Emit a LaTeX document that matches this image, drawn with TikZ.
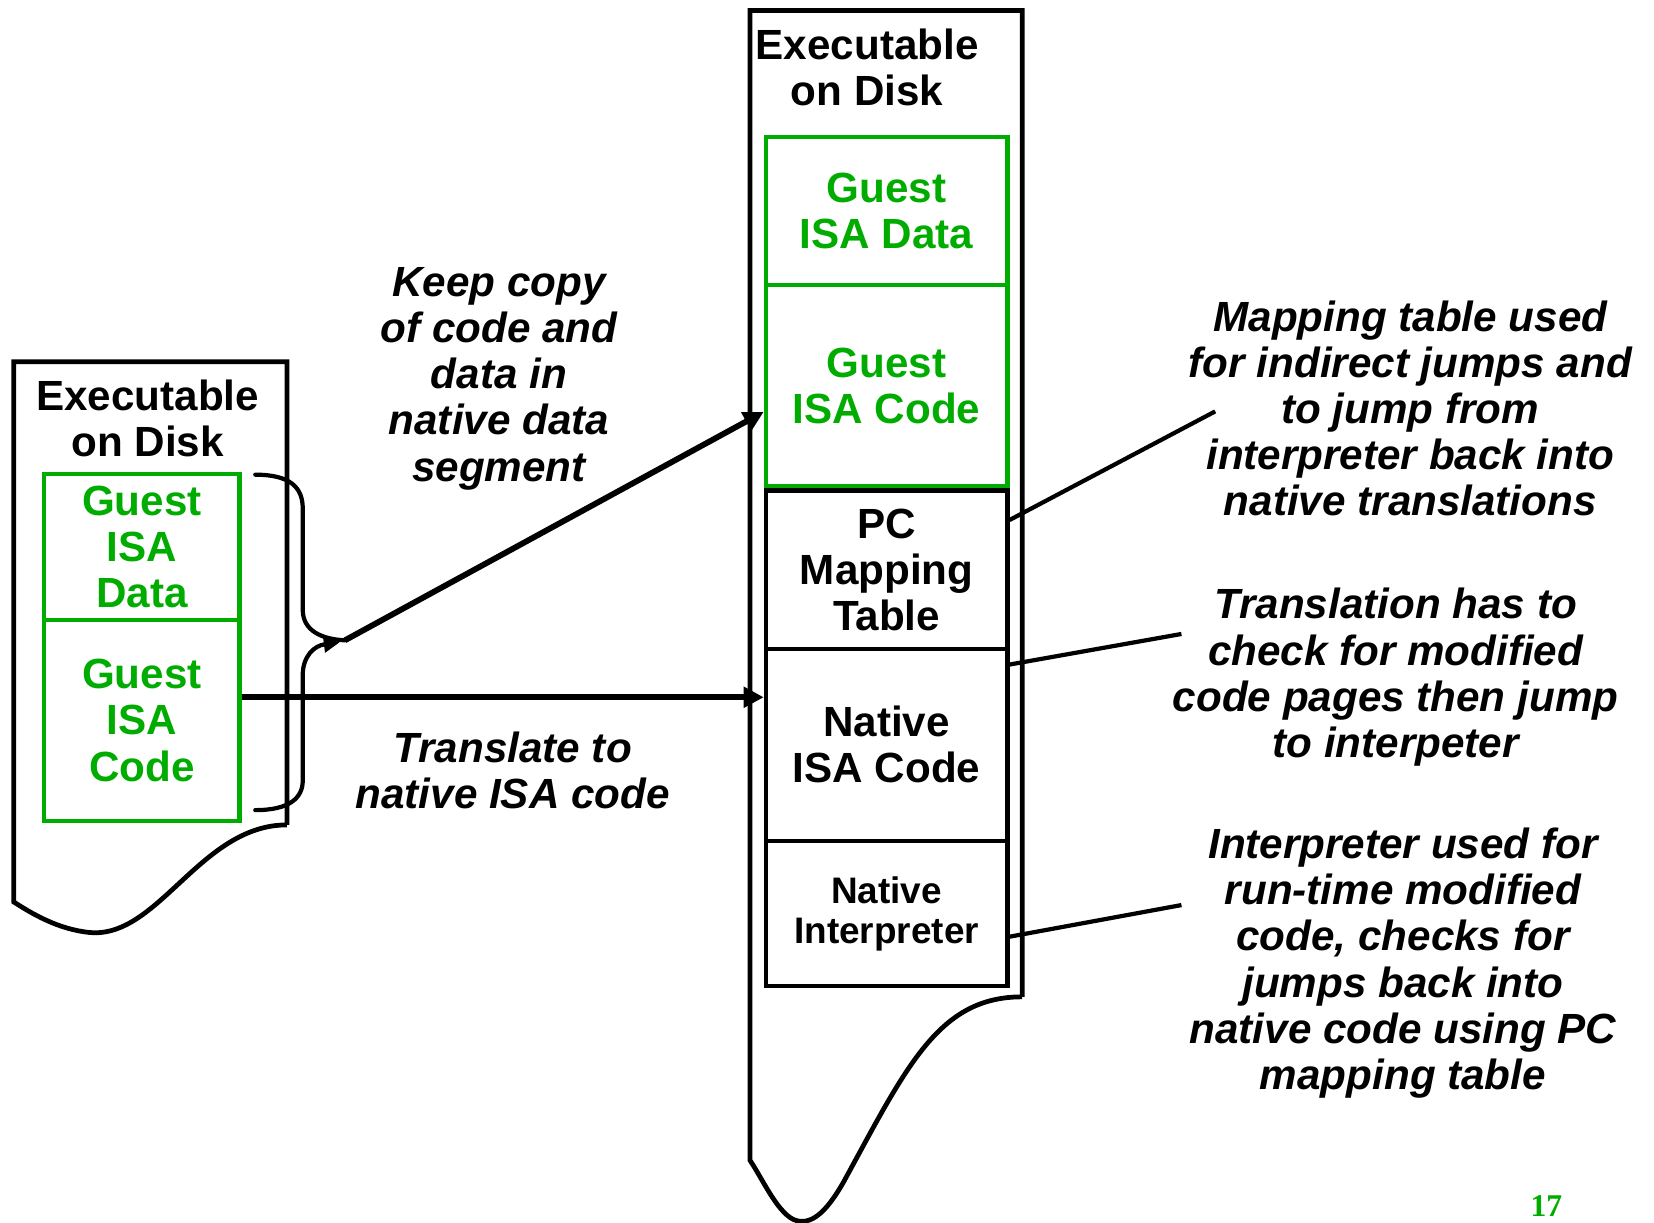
\documentclass[tikz,border=0pt]{standalone}
\usepackage{fontspec}
\setmainfont{Liberation Sans}
\newfontfamily\pagenumfont{Liberation Serif}
\usetikzlibrary{arrows.meta,calc}
\definecolor{guestgreen}{RGB}{0,172,0}
\begin{document}
\begin{tikzpicture}[x=1pt,y=-1pt,
  docshape/.style={line width=4.5pt, line join=miter},
  bigfont/.style={font=\fontsize{40}{43.75}\selectfont\bfseries},
  titletext/.style={bigfont, align=center, inner sep=0pt},
  gbox/.style={draw=guestgreen, line width=4pt, text=guestgreen, bigfont, align=center, inner sep=0pt, minimum width=#1},
  bbox/.style={draw=black, line width=4pt, bigfont, align=center, inner sep=0pt, minimum width=229pt},
  notetext/.style={font=\fontsize{40}{43.75}\selectfont\bfseries\itshape, align=center, inner sep=0pt},
  bigarrow/.style={line width=5.5pt, -{Triangle[length=19pt,width=19pt]}},
  calloutline/.style={line width=4pt},
  bracepath/.style={line width=4pt, line cap=round},
]
\useasboundingbox (0,0) rectangle (1568,1159);

% ---------- left executable on disk ----------
\draw[docshape] (272,782) -- (272,343) -- (13,343) -- (13,855)
  .. controls (30,866) and (55,881) .. (85,884)
  .. controls (150,890) and (190,782) .. (272,782);
\node[titletext] (ltitle) at (140,397) {Executable\\on Disk};
\node[gbox=185pt, minimum height=139pt] (ldata) at (134.5,518.5) {Guest\\ISA\\Data};
\node[gbox=185pt, minimum height=190pt] (lcode) at (134.5,683) {Guest\\ISA\\Code};

% ---------- right executable on disk ----------
\draw[docshape] (969,945) -- (969,10) -- (711,10) -- (711,1100)
  .. controls (722,1116) and (736,1148) .. (752,1156)
  .. controls (768,1163) and (783,1150) .. (800,1120)
  .. controls (860,1010) and (890,945) .. (969,945);
\node[titletext] (rtitle) at (822,64) {Executable\\on Disk};
\node[gbox=229pt, minimum height=140pt] (rdata) at (840.5,200) {Guest\\ISA Data};
\node[gbox=229pt, minimum height=191pt] (rcode) at (840.5,365.5) {Guest\\ISA Code};
\node[bbox, minimum height=150pt] (pcmap) at (840.5,540) {PC\\Mapping\\Table};
\node[bbox, minimum height=182pt] (ncode) at (840.5,706) {Native\\ISA Code};
\node[bbox, minimum height=138pt, font=\fontsize{35}{38}\selectfont\bfseries] (ninterp) at (840.5,866) {Native\\Interpreter};

% ---------- brace ----------
\coordinate (bracetip) at (327,607);
\draw[bracepath] (242,450) .. controls (275,450) and (287,462) .. (287,482)
  -- (287,578) .. controls (287,598) and (305,606) .. (bracetip);
\draw[bracepath, -{Triangle[length=15pt,width=15pt]}] (242,768) .. controls (275,768) and (287,756) .. (287,740)
  -- (287,640) .. controls (287,622) and (298,612) .. (322,609);

% ---------- arrows ----------
\coordinate (copyend) at ($(rcode.west)+(0,25)$);
\draw[bigarrow] (bracetip) -- (copyend);
\coordinate (transstart) at ($(lcode.east)+(0,-22)$);
\coordinate (transend) at ($(ncode.west)+(0,-45)$);
\draw[bigarrow] (transstart) -- (transend);

% ---------- middle notes ----------
\node[notetext] (keepnote) at (473,359) {Keep copy\\of code and\\data in\\native data\\segment};
\node[notetext] (transnote) at (486,730) {Translate to\\native ISA code};

% ---------- callouts ----------
\coordinate (c1) at (1152,390);
\coordinate (c2) at (1120,601);
\coordinate (c3) at (1120,858);
\draw[calloutline] ($(pcmap.east)+(0,-47)$) -- (c1);
\draw[calloutline] ($(ncode.east)+(0,-76)$) -- (c2);
\draw[calloutline] ($(ninterp.east)+(0,22)$) -- (c3);

\node[notetext] (mapnote) at (1337,387) {Mapping table used\\for indirect jumps and\\to jump from\\interpreter back into\\native translations};
\node[notetext] (checknote) at (1323,642) {Translation has to\\check for modified\\code pages then jump\\to interpeter};
\node[notetext] (interpnote) at (1330,913) {Interpreter used for\\run-time modified\\code, checks for\\jumps back into\\native code using PC\\mapping table};

% ---------- page number ----------
\node[text=guestgreen, inner sep=0pt, font=\fontsize{30}{30}\selectfont\pagenumfont\bfseries] (pagenum) at (1466,1143) {17};
\end{tikzpicture}
\end{document}
